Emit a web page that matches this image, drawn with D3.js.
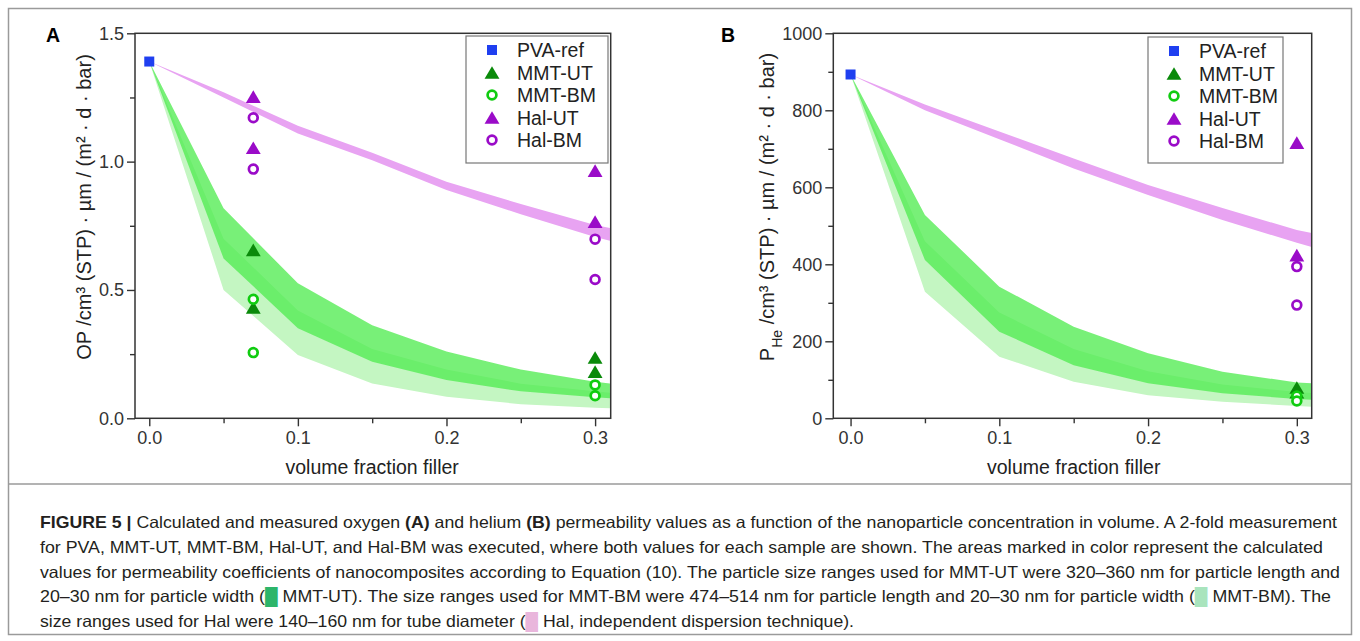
<!DOCTYPE html>
<html>
<head>
<meta charset="utf-8">
<script src="https://cdn.jsdelivr.net/npm/d3@7"></script>
<style>
  body { margin: 0; background: #fff; }
  svg { display: block; font-family: "Liberation Sans", Arial, sans-serif; }
</style>
</head>
<body>
<div id="chart"></div>
<script>
// x positions of the calculated bands (volume fraction)
const bandX = [0, 0.05, 0.1, 0.15, 0.2, 0.25, 0.3, 0.31];

// Panel A - oxygen permeability bands
const halUpperA = [1.39, 1.27, 1.14, 1.035, 0.922, 0.835, 0.753, 0.741];
const halLowerA = [1.39, 1.25, 1.11, 1.005, 0.889, 0.795, 0.706, 0.692];
const mmtUtUpperA = [1.39, 0.818, 0.526, 0.363, 0.26, 0.19, 0.142, 0.136];
const mmtUtLowerA = [1.39, 0.623, 0.351, 0.22, 0.149, 0.105, 0.082, 0.078];
const mmtBmUpperA = [1.39, 0.70, 0.42, 0.27, 0.19, 0.135, 0.105, 0.10];
const mmtBmLowerA = [1.39, 0.50, 0.247, 0.136, 0.084, 0.055, 0.041, 0.039];

// Panel B - helium permeability bands
const halUpperB = [893, 815, 745, 675, 606, 546, 489, 481];
const halLowerB = [893, 800, 725, 649, 580, 515, 456, 445];
const mmtUtUpperB = [893, 528, 342, 238, 169, 121, 93, 91];
const mmtUtLowerB = [893, 411, 225, 138, 91, 65, 50, 48];
const mmtBmUpperB = [893, 460, 275, 180, 122, 88, 68, 66];
const mmtBmLowerB = [893, 329, 160, 95, 60, 43, 32, 30];

// Measured values (2-fold measurement) panel A
const pvaA = [[0, 1.39]];
const mmtUtA = [[0.07, 0.656], [0.07, 0.432], [0.3, 0.237], [0.3, 0.182]];
const mmtBmA = [[0.07, 0.464], [0.07, 0.256], [0.3, 0.130], [0.3, 0.088]];
const halUtA = [[0.07, 1.253], [0.07, 1.054], [0.3, 0.965], [0.3, 0.766]];
const halBmA = [[0.07, 1.171], [0.07, 0.971], [0.3, 0.698], [0.3, 0.541]];

// Measured values panel B
const pvaB = [[0, 893]];
const mmtUtB = [[0.3, 80], [0.3, 68]];
const mmtBmB = [[0.3, 58], [0.3, 45]];
const halUtB = [[0.3, 716], [0.3, 424]];
const halBmB = [[0.3, 394], [0.3, 294]];

const legendNames = ['PVA-ref', 'MMT-UT', 'MMT-BM', 'Hal-UT', 'Hal-BM'];
const xTicks = [0, 0.1, 0.2, 0.3];

const colors = {
    pva: '#1f3ff0',
    mmtUt: '#0a8a0a',
    mmtBm: '#10cc10',
    hal: '#9a0bc8',
    halBand: '#e8a3f2',
    utBand: '#52ec52',
    bmBand: '#c4f6c2'
};

const svg = d3.select('#chart').append('svg')
    .attr('width', 1360)
    .attr('height', 641);

// outer figure frame and caption separator
svg.append('rect')
    .attr('x', 8.5).attr('y', 8.5)
    .attr('width', 1343).attr('height', 626)
    .attr('fill', 'none').attr('stroke', '#9a9a9a').attr('stroke-width', 1.5);
svg.append('line')
    .attr('x1', 8.5).attr('x2', 1351.5).attr('y1', 484).attr('y2', 484)
    .attr('stroke', '#9a9a9a').attr('stroke-width', 1.5);

// marker drawing helper
function drawMarker(g, type, x, y, size) {
    if (type === 'square') {
        g.append('rect')
            .attr('x', x - size / 2).attr('y', y - size / 2)
            .attr('width', size).attr('height', size)
            .attr('fill', colors.pva);
    } else if (type === 'triUt' || type === 'triHal') {
        const w = size * 1.35, h = size * 1.15;
        g.append('path')
            .attr('d', `M${x - w / 2},${y + h / 2}L${x + w / 2},${y + h / 2}L${x},${y - h / 2}Z`)
            .attr('fill', type === 'triUt' ? colors.mmtUt : colors.hal);
    } else {
        g.append('circle')
            .attr('cx', x).attr('cy', y).attr('r', size * 0.4)
            .attr('fill', 'white')
            .attr('stroke', type === 'circBm' ? colors.mmtBm : colors.hal)
            .attr('stroke-width', 2.7);
    }
}

function drawPanel(cfg) {
    const x = d3.scaleLinear().domain(cfg.xDomain).range([cfg.left, cfg.right]);
    const y = d3.scaleLinear().domain(cfg.yDomain).range([cfg.bottom, cfg.top]);
    const g = svg.append('g');

    const clipId = 'clip' + cfg.letter;
    svg.append('clipPath').attr('id', clipId)
        .append('rect')
        .attr('x', cfg.left).attr('y', cfg.top)
        .attr('width', cfg.right - cfg.left).attr('height', cfg.bottom - cfg.top);

    // calculated bands
    const area = (upper, lower) => d3.area()
        .x((d, i) => x(bandX[i]))
        .y0((d, i) => y(lower[i]))
        .y1((d, i) => y(upper[i]))(bandX);

    const bands = g.append('g').attr('clip-path', `url(#${clipId})`);
    bands.append('path').attr('d', area(cfg.bmUpper, cfg.bmLower)).attr('fill', colors.bmBand);
    bands.append('path').attr('d', area(cfg.utUpper, cfg.utLower)).attr('fill', colors.utBand).attr('fill-opacity', 0.78);
    bands.append('path').attr('d', area(cfg.halUpper, cfg.halLower)).attr('fill', colors.halBand);

    // axes
    const yAxis = d3.axisLeft(y).tickValues(cfg.yTicks).tickFormat(cfg.yFormat).tickSize(8).tickPadding(3);
    const yMinor = d3.axisLeft(y).tickValues(cfg.yMinor).tickFormat('').tickSize(5);
    const xAxis = d3.axisBottom(x).tickValues(xTicks).tickFormat(d3.format('.1f')).tickSize(8).tickPadding(5);
    const xMinor = d3.axisBottom(x).tickValues([0.05, 0.15, 0.25]).tickFormat('').tickSize(5);

    [
        g.append('g').attr('transform', `translate(${cfg.left},0)`).call(yAxis),
        g.append('g').attr('transform', `translate(${cfg.left},0)`).call(yMinor),
        g.append('g').attr('transform', `translate(0,${cfg.bottom})`).call(xAxis),
        g.append('g').attr('transform', `translate(0,${cfg.bottom})`).call(xMinor)
    ].forEach(ax => {
        ax.attr('font-family', null).attr('font-size', null);
        ax.select('.domain').remove();
        ax.selectAll('line').attr('stroke', '#333').attr('stroke-width', 1.4);
        ax.selectAll('text').attr('fill', '#333').style('font-size', '18px');
    });

    // plot frame
    g.append('rect')
        .attr('x', cfg.left).attr('y', cfg.top)
        .attr('width', cfg.right - cfg.left).attr('height', cfg.bottom - cfg.top)
        .attr('fill', 'none').attr('stroke', '#333').attr('stroke-width', 1.5);

    // measured points
    const pts = g.append('g');
    cfg.pva.forEach(d => drawMarker(pts, 'square', x(d[0]), y(d[1]), 10));
    cfg.mmtUt.forEach(d => drawMarker(pts, 'triUt', x(d[0]), y(d[1]), 11));
    cfg.mmtBm.forEach(d => drawMarker(pts, 'circBm', x(d[0]), y(d[1]), 11));
    cfg.halUt.forEach(d => drawMarker(pts, 'triHal', x(d[0]), y(d[1]), 11));
    cfg.halBm.forEach(d => drawMarker(pts, 'circHal', x(d[0]), y(d[1]), 11));

    // legend
    const lg = g.append('g');
    lg.append('rect')
        .attr('x', cfg.legend.x).attr('y', cfg.legend.y)
        .attr('width', cfg.legend.w).attr('height', cfg.legend.h)
        .attr('fill', 'white').attr('stroke', '#777').attr('stroke-width', 1.2);
    const types = ['square', 'triUt', 'circBm', 'triHal', 'circHal'];
    legendNames.forEach((name, i) => {
        const ly = cfg.legend.y + 14 + i * 22.5;
        drawMarker(lg, types[i], cfg.legend.x + 26, ly, i === 0 ? 10 : 11);
        lg.append('text')
            .attr('x', cfg.legend.x + 51).attr('y', ly + 7)
            .attr('fill', '#222').style('font-size', '19.5px')
            .text(name);
    });

    // panel letter
    svg.append('text')
        .attr('x', cfg.letterX).attr('y', 42)
        .style('font-size', '19.5px').style('font-weight', 'bold')
        .text(cfg.letter);

    // x label
    svg.append('text')
        .attr('x', (x(0) + x(0.3)) / 2).attr('y', 474)
        .attr('text-anchor', 'middle').attr('fill', '#222')
        .style('font-size', '19.5px')
        .text('volume fraction filler');

    // y label
    const yl = svg.append('text')
        .attr('transform', `translate(${cfg.yLabelX},207) rotate(-90)`)
        .attr('text-anchor', 'middle').attr('fill', '#222')
        .style('font-size', '20px');
    cfg.yLabel(yl);
}

drawPanel({
    letter: 'A', letterX: 46,
    left: 135, right: 610.7, top: 33.3, bottom: 418.3,
    xDomain: [-0.0096, 0.3105], yDomain: [0, 1.5],
    yTicks: [0, 0.5, 1.0, 1.5], yMinor: [0.25, 0.75, 1.25],
    yFormat: d3.format('.1f'),
    halUpper: halUpperA, halLower: halLowerA,
    utUpper: mmtUtUpperA, utLower: mmtUtLowerA,
    bmUpper: mmtBmUpperA, bmLower: mmtBmLowerA,
    pva: pvaA, mmtUt: mmtUtA, mmtBm: mmtBmA, halUt: halUtA, halBm: halBmA,
    legend: { x: 466, y: 36, w: 142, h: 127 },
    yLabelX: 91,
    yLabel: t => t.text('OP /cm³ (STP) · µm / (m² · d · bar)')
});

drawPanel({
    letter: 'B', letterX: 721,
    left: 833.3, right: 1311.7, top: 33.3, bottom: 418.3,
    xDomain: [-0.0116, 0.310], yDomain: [0, 1000],
    yTicks: [0, 200, 400, 600, 800, 1000], yMinor: [100, 300, 500, 700, 900],
    yFormat: d3.format('d'),
    halUpper: halUpperB, halLower: halLowerB,
    utUpper: mmtUtUpperB, utLower: mmtUtLowerB,
    bmUpper: mmtBmUpperB, bmLower: mmtBmLowerB,
    pva: pvaB, mmtUt: mmtUtB, mmtBm: mmtBmB, halUt: halUtB, halBm: halBmB,
    legend: { x: 1148, y: 37, w: 135, h: 126 },
    yLabelX: 774,
    yLabel: t => {
        t.append('tspan').text('P');
        t.append('tspan').attr('baseline-shift', 'sub').style('font-size', '14px').text('He');
        t.append('tspan').text(' /cm³ (STP) · µm / (m² · d · bar)');
    }
});

// caption, one text element per printed line
const captionLines = [
    [['FIGURE 5 | ', 'b'], ['Calculated and measured oxygen '], ['(A)', 'b'], [' and helium '], ['(B)', 'b'],
     [' permeability values as a function of the nanoparticle concentration in volume. A 2-fold measurement']],
    [['for PVA, MMT-UT, MMT-BM, Hal-UT, and Hal-BM was executed, where both values for each sample are shown. The areas marked in color represent the calculated']],
    [['values for permeability coefficients of nanocomposites according to Equation (10). The particle size ranges used for MMT-UT were 320–360 nm for particle length and']],
    [['20–30 nm for particle width ('], ['█', '#2db56a'], [' MMT-UT). The size ranges used for MMT-BM were 474–514 nm for particle length and 20–30 nm for particle width ('],
     ['█', '#a9e4bd'], [' MMT-BM). The']],
    [['size ranges used for Hal were 140–160 nm for tube diameter ('], ['█', '#e9b6dc'], [' Hal, independent dispersion technique).']]
];
const captionWidths = [1297, 1283, 1300, 1291, 814];

captionLines.forEach((parts, i) => {
    const t = svg.append('text')
        .attr('x', 40).attr('y', 528 + i * 24.8)
        .attr('textLength', captionWidths[i])
        .attr('lengthAdjust', 'spacingAndGlyphs')
        .attr('fill', '#231f20')
        .style('font-family', '"Liberation Sans", Arial, sans-serif')
        .style('font-size', '16.5px');
    parts.forEach(p => {
        const s = t.append('tspan').text(p[0]);
        if (p[1] === 'b') s.style('font-weight', 'bold');
        else if (p[1]) s.attr('fill', p[1]);
    });
});
</script>
</body>
</html>
